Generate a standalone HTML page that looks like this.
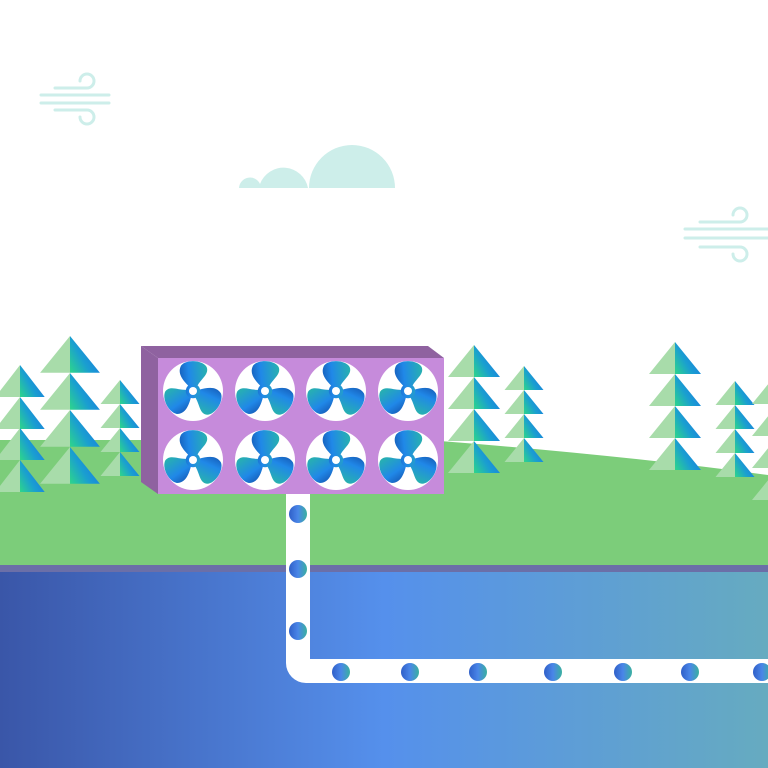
<!DOCTYPE html>
<html><head><meta charset="utf-8"><style>html,body{margin:0;padding:0;background:#fff}svg{display:block}</style></head>
<body>
<svg width="768" height="768" viewBox="0 0 768 768" xmlns="http://www.w3.org/2000/svg">
<defs>
<linearGradient id="water" x1="0" y1="0" x2="1" y2="0">
<stop offset="0" stop-color="#3a56a8"/><stop offset="0.5" stop-color="#5590ec"/><stop offset="1" stop-color="#66abc0"/>
</linearGradient>
<linearGradient id="tr" x1="1" y1="0.3" x2="0" y2="1">
<stop offset="0" stop-color="#1a6fe8"/><stop offset="0.55" stop-color="#1a9fd0"/><stop offset="1" stop-color="#2ed68a"/>
</linearGradient>
<linearGradient id="fg" gradientUnits="userSpaceOnUse" x1="-22" y1="0" x2="22" y2="0">
<stop offset="0" stop-color="#0a2a80"/><stop offset="0.45" stop-color="#2088e8"/><stop offset="1" stop-color="#2cc890"/>
</linearGradient>
<linearGradient id="dot" x1="0" y1="0" x2="1" y2="0">
<stop offset="0" stop-color="#2f5fc8"/><stop offset="0.5" stop-color="#4a86e8"/><stop offset="1" stop-color="#3ab0a0"/>
</linearGradient>
<path id="bl" d="M-3,-4 C-8,-10 -12,-16 -8,-22 C-3,-27 10,-25 13,-19 C15,-13 8,-10 4,-4 Z"/>
<g id="fan">
<circle r="30" fill="#fff"/>
<g fill="url(#fg)" transform="scale(1.2)">
<use href="#bl" transform="rotate(-5)"/>
<use href="#bl" transform="rotate(115)"/>
<use href="#bl" transform="rotate(235)"/>
<circle r="6"/>
</g>
<circle r="4" fill="#fff"/>
</g>
<g id="tierL">
<polygon points="0,0 -26,32 0,32" fill="#a8dcaa"/><polygon points="0,0 26,32 0,32" fill="url(#tr)"/>
</g>
</defs>

<g fill="#cdeeea">
<path d="M239,188 A11,11 0 0 1 260,184 A25,25 0 0 1 308,188 Z"/>
<path d="M309,188 A43,43 0 0 1 395,188 Z"/>
</g>
<g stroke="#cdeeea" stroke-width="3" fill="none" stroke-linecap="round">
<line x1="41" y1="95" x2="109" y2="95"/><line x1="41" y1="103" x2="109" y2="103"/>
<path d="M55,88 H87 A7,7 0 1 0 80,81"/><path d="M55,110 H87 A7,7 0 1 1 80,117"/>
<line x1="685" y1="229" x2="768" y2="229"/><line x1="685" y1="238" x2="768" y2="238"/>
<path d="M700,222 H740 A7,7 0 1 0 733,215"/><path d="M700,247 H740 A7,7 0 1 1 733,254"/>
</g>

<path d="M0,440 L160,440 Q300,436 440,441 Q620,455 768,475 L768,568 L0,568 Z" fill="#7ccd7a"/>

<g>
<use href="#tierL" transform="translate(20,365) scale(0.95,1)"/><use href="#tierL" transform="translate(20,397) scale(0.95,1)"/><use href="#tierL" transform="translate(20,428) scale(0.95,1)"/><use href="#tierL" transform="translate(20,460) scale(0.95,1)"/>
<use href="#tierL" transform="translate(70,336) scale(1.15,1.15)"/><use href="#tierL" transform="translate(70,373) scale(1.15,1.15)"/><use href="#tierL" transform="translate(70,410) scale(1.15,1.15)"/><use href="#tierL" transform="translate(70,447) scale(1.15,1.15)"/>
<use href="#tierL" transform="translate(120,380) scale(0.75,0.75)"/><use href="#tierL" transform="translate(120,404) scale(0.75,0.75)"/><use href="#tierL" transform="translate(120,428) scale(0.75,0.75)"/><use href="#tierL" transform="translate(120,452) scale(0.75,0.75)"/>
<use href="#tierL" transform="translate(474,345)"/><use href="#tierL" transform="translate(474,377)"/><use href="#tierL" transform="translate(474,409)"/><use href="#tierL" transform="translate(474,441)"/>
<use href="#tierL" transform="translate(524,366) scale(0.75,0.75)"/><use href="#tierL" transform="translate(524,390) scale(0.75,0.75)"/><use href="#tierL" transform="translate(524,414) scale(0.75,0.75)"/><use href="#tierL" transform="translate(524,438) scale(0.75,0.75)"/>
<use href="#tierL" transform="translate(675,342)"/><use href="#tierL" transform="translate(675,374)"/><use href="#tierL" transform="translate(675,406)"/><use href="#tierL" transform="translate(675,438)"/>
<use href="#tierL" transform="translate(735,381) scale(0.75,0.75)"/><use href="#tierL" transform="translate(735,405) scale(0.75,0.75)"/><use href="#tierL" transform="translate(735,429) scale(0.75,0.75)"/><use href="#tierL" transform="translate(735,453) scale(0.75,0.75)"/>
<use href="#tierL" transform="translate(778,372)"/><use href="#tierL" transform="translate(778,404)"/><use href="#tierL" transform="translate(778,436)"/><use href="#tierL" transform="translate(778,468)"/>
</g>

<polygon points="141,346 428,346 444,358 158,358" fill="#8f62a0"/>
<polygon points="141,346 158,358 158,494 141,482" fill="#8f62a0"/>
<rect x="158" y="358" width="286" height="136" fill="#c68bdb"/>
<use href="#fan" transform="translate(193,391)"/><use href="#fan" transform="translate(265,391)"/><use href="#fan" transform="translate(336,391)"/><use href="#fan" transform="translate(408,391)"/>
<use href="#fan" transform="translate(193,460)"/><use href="#fan" transform="translate(265,460)"/><use href="#fan" transform="translate(336,460)"/><use href="#fan" transform="translate(408,460)"/>

<rect x="0" y="565" width="768" height="203" fill="url(#water)"/>
<rect x="0" y="565" width="768" height="7" fill="#6b6fa8"/>

<path d="M286,494 H310 V659 H768 V683 H306 A20,20 0 0 1 286,663 Z" fill="#fff"/>
<g fill="url(#dot)">
<circle cx="298" cy="514" r="9"/><circle cx="298" cy="569" r="9"/><circle cx="298" cy="631" r="9"/>
<circle cx="341" cy="672" r="9"/><circle cx="410" cy="672" r="9"/><circle cx="478" cy="672" r="9"/><circle cx="553" cy="672" r="9"/><circle cx="623" cy="672" r="9"/><circle cx="690" cy="672" r="9"/><circle cx="762" cy="672" r="9"/>
</g>
</svg>
</body></html>
